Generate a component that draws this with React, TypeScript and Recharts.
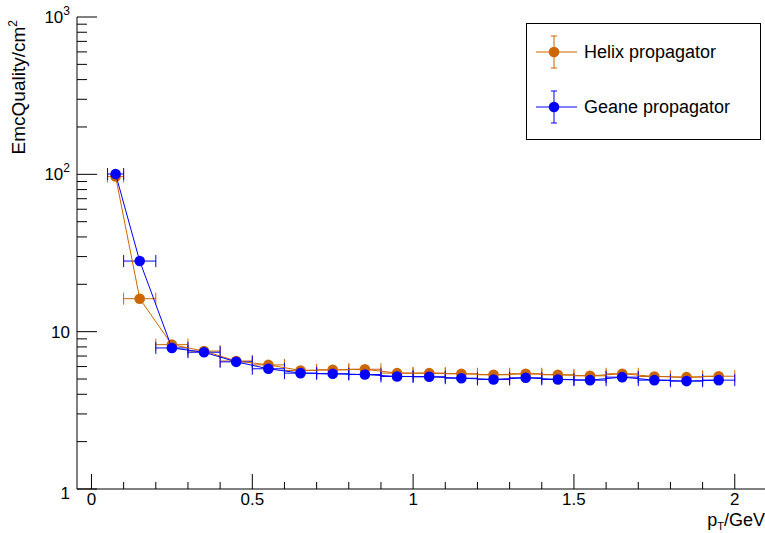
import { ComposedChart, Scatter, ErrorBar, XAxis, YAxis } from "recharts";

const FONT = '"Liberation Sans", Arial, Helvetica, sans-serif';

// bin centres and half widths (GeV)
const ptCenters = [0.075, 0.15, 0.25, 0.35, 0.45, 0.55, 0.65, 0.75, 0.85, 0.95, 1.05, 1.15, 1.25, 1.35, 1.45, 1.55, 1.65, 1.75, 1.85, 1.95];
const ptHalfWidths = [0.025, 0.05, 0.05, 0.05, 0.05, 0.05, 0.05, 0.05, 0.05, 0.05, 0.05, 0.05, 0.05, 0.05, 0.05, 0.05, 0.05, 0.05, 0.05, 0.05];

const helixValues = [97, 16.2, 8.27, 7.53, 6.51, 6.15, 5.67, 5.72, 5.77, 5.45, 5.45, 5.4, 5.32, 5.4, 5.32, 5.24, 5.4, 5.19, 5.14, 5.21];
const geaneValues = [100.5, 28.1, 7.88, 7.4, 6.43, 5.81, 5.45, 5.4, 5.34, 5.19, 5.17, 5.06, 4.97, 5.09, 4.97, 4.92, 5.14, 4.92, 4.85, 4.92];

const xMajorTicks = [0, 0.5, 1, 1.5, 2];
const xTicks = [0, 0.1, 0.2, 0.3, 0.4, 0.5, 0.6, 0.7, 0.8, 0.9, 1, 1.1, 1.2, 1.3, 1.4, 1.5, 1.6, 1.7, 1.8, 1.9, 2];
const yMajorTicks = [1, 10, 100, 1000];
const yTicks = [1, 2, 3, 4, 5, 6, 7, 8, 9, 10, 20, 30, 40, 50, 60, 70, 80, 90, 100, 200, 300, 400, 500, 600, 700, 800, 900, 1000];

const HELIX_COLOR = "#cc6600";
const GEANE_COLOR = "#0000ff";

const seriesNames = ["Helix propagator", "Geane propagator"];
const seriesColors = [HELIX_COLOR, GEANE_COLOR];

const helixData = ptCenters.map((x, i) => ({ x, y: helixValues[i], xerr: ptHalfWidths[i] }));
const geaneData = ptCenters.map((x, i) => ({ x, y: geaneValues[i], xerr: ptHalfWidths[i] }));

function XTick(props: any) {
  const { x, y, payload } = props;
  const major = xMajorTicks.includes(payload.value);
  return (
    <g>
      <line x1={x} x2={x} y1={y} y2={y - (major ? 15 : 7)} stroke="#000" strokeWidth={1} />
      {major && (
        <text x={x} y={y + 16} textAnchor="middle" fontSize={17} fontFamily={FONT} fill="#000">
          {String(payload.value)}
        </text>
      )}
    </g>
  );
}

function YTick(props: any) {
  const { x, y, payload } = props;
  const v = payload.value;
  const major = yMajorTicks.includes(v);
  let label: any = null;
  if (major) {
    const exp = Math.round(Math.log10(v));
    label = (
      <text x={x - 7} y={y + (v === 1 ? 10 : 6)} textAnchor="end" fontSize={17} fontFamily={FONT} fill="#000">
        {exp < 2 ? (
          String(v)
        ) : (
          <>
            <tspan>10</tspan>
            <tspan dy={-8} fontSize={12}>{exp}</tspan>
          </>
        )}
      </text>
    );
  }
  return (
    <g>
      <line x1={x} x2={x + (major ? 20 : 10)} y1={y} y2={y} stroke="#000" strokeWidth={1} />
      {label}
    </g>
  );
}

function Marker(props: any) {
  const { cx, cy, fill } = props;
  return <circle cx={cx} cy={cy} r={5.3} fill={fill} />;
}

function LegendBox() {
  return (
    <div
      style={{
        position: "absolute",
        left: 526,
        top: 23,
        width: 233,
        height: 115,
        border: "1px solid #000",
        background: "#fff",
        fontFamily: FONT,
        fontSize: 18,
      }}
    >
      {seriesNames.map((name, i) => (
        <div key={name} style={{ position: "absolute", left: 0, top: 28 + i * 55 - 17, height: 34, display: "flex", alignItems: "center" }}>
          <svg width={56} height={34} style={{ display: "block" }}>
            <line x1={9} x2={50} y1={17} y2={17} stroke={seriesColors[i]} strokeWidth={1} />
            <line x1={27} x2={27} y1={1} y2={33} stroke={seriesColors[i]} strokeWidth={1} />
            <line x1={24} x2={30} y1={1} y2={1} stroke={seriesColors[i]} strokeWidth={1} />
            <line x1={24} x2={30} y1={33} y2={33} stroke={seriesColors[i]} strokeWidth={1} />
            <circle cx={27} cy={17} r={5.3} fill={seriesColors[i]} />
          </svg>
          <span style={{ color: "#000", marginLeft: 1 }}>{name}</span>
        </div>
      ))}
    </div>
  );
}

export default function App() {
  return (
    <div style={{ position: "absolute", left: 0, top: 0, width: 765, height: 533, background: "#fff" }}>
      <ComposedChart width={765} height={533} margin={{ top: 17, right: 0, bottom: 0, left: 0 }}>
        <XAxis
          xAxisId="top"
          orientation="top"
          type="number"
          dataKey="x"
          domain={[-0.045, 2.094]}
          allowDataOverflow
          height={0}
          tick={false}
          tickLine={false}
          axisLine={{ stroke: "#000" }}
        />
        <XAxis
          type="number"
          dataKey="x"
          domain={[-0.045, 2.094]}
          allowDataOverflow
          ticks={xTicks}
          interval={0}
          height={44}
          tickSize={0}
          tickMargin={0}
          tickLine={false}
          axisLine={{ stroke: "#000" }}
          tick={(p: any) => <XTick {...p} />}
          label={(p: any) => {
            const vb = p.viewBox || {};
            return (
              <text x={vb.x + vb.width} y={vb.y + 37} textAnchor="end" fontSize={18} fontFamily={FONT} fill="#000">
                <tspan>p</tspan>
                <tspan dy={4} fontSize={11}>T</tspan>
                <tspan dy={-4}>/GeV</tspan>
              </text>
            );
          }}
        />
        <YAxis
          type="number"
          dataKey="y"
          scale="log"
          domain={[1, 1000]}
          allowDataOverflow
          ticks={yTicks}
          interval={0}
          width={77}
          tickSize={0}
          tickMargin={0}
          tickLine={false}
          axisLine={{ stroke: "#000" }}
          tick={(p: any) => <YTick {...p} />}
          label={() => (
            <text
              x={25}
              y={20}
              transform="rotate(-90 25 20)"
              textAnchor="end"
              fontSize={19}
              fontFamily={FONT}
              fill="#000"
            >
              <tspan>EmcQuality/cm</tspan>
              <tspan dy={-8} fontSize={12}>2</tspan>
            </text>
          )}
        />
        <Scatter
          name={seriesNames[0]}
          data={helixData}
          fill={HELIX_COLOR}
          line={{ stroke: HELIX_COLOR, strokeWidth: 1 }}
          shape={(p: any) => <Marker {...p} fill={HELIX_COLOR} />}
          isAnimationActive={false}
        >
          <ErrorBar dataKey="xerr" direction="x" width={6} stroke={HELIX_COLOR} strokeWidth={1} isAnimationActive={false} />
        </Scatter>
        <Scatter
          name={seriesNames[1]}
          data={geaneData}
          fill={GEANE_COLOR}
          line={{ stroke: GEANE_COLOR, strokeWidth: 1 }}
          shape={(p: any) => <Marker {...p} fill={GEANE_COLOR} />}
          isAnimationActive={false}
        >
          <ErrorBar dataKey="xerr" direction="x" width={6} stroke={GEANE_COLOR} strokeWidth={1} isAnimationActive={false} />
        </Scatter>
      </ComposedChart>
      <LegendBox />
    </div>
  );
}
